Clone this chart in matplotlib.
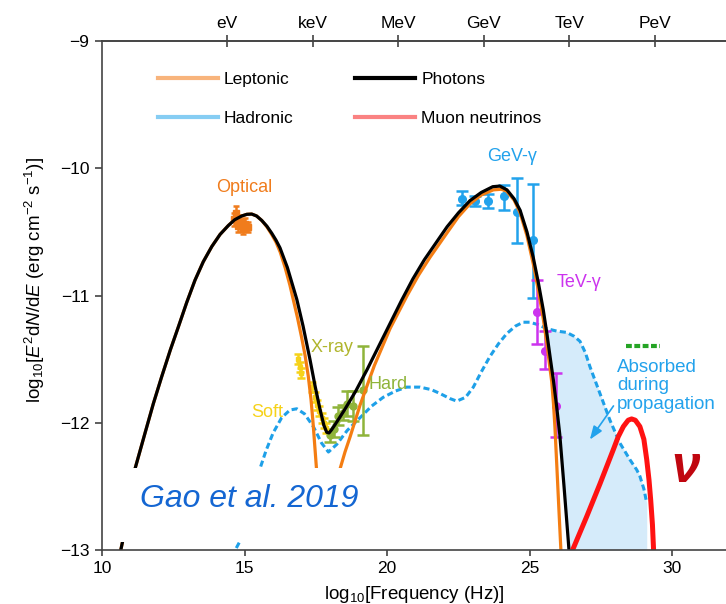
import numpy as np
import matplotlib
matplotlib.use("Agg")
import matplotlib.pyplot as plt
from matplotlib.lines import Line2D
from matplotlib.patches import Rectangle

plt.rcParams["font.family"] = ["Liberation Sans", "DejaVu Sans"]
plt.rcParams["mathtext.fontset"] = "custom"
plt.rcParams["mathtext.rm"] = "Liberation Sans"
plt.rcParams["mathtext.it"] = "Liberation Sans:italic"
plt.rcParams["mathtext.bf"] = "Liberation Sans:bold"

# ---- model curves: log10(nu / Hz) vs log10(E^2 dN/dE) ----
photons_x = [10.64, 10.72, 11.16, 11.51, 11.80, 12.09, 12.40, 12.68, 12.97, 13.26,
             13.55, 13.85, 14.14, 14.43, 14.65, 14.90, 15.08, 15.25, 15.42, 15.60,
             15.78, 15.95, 16.10, 16.24, 16.50, 16.83, 17.05, 17.29, 17.47, 17.64,
             17.78, 17.88, 17.96, 18.05, 18.20, 18.50, 18.90, 19.30, 19.70, 20.10,
             20.50, 20.90, 21.30, 21.70, 22.10, 22.50, 22.90, 23.30, 23.70, 23.95,
             24.20, 24.45, 24.66, 24.90, 25.12, 25.30, 25.47, 25.60, 25.71, 25.83,
             25.94, 26.05, 26.20, 26.35, 26.38]
photons_y = [-13.02, -12.935, -12.36, -12.08, -11.85, -11.64, -11.425, -11.245, -11.055, -10.88,
             -10.735, -10.615, -10.52, -10.45, -10.405, -10.375, -10.362, -10.36, -10.375, -10.41,
             -10.455, -10.51, -10.565, -10.625, -10.78, -11.03, -11.24, -11.50, -11.71, -11.89,
             -12.02, -12.075, -12.08, -12.055, -12.005, -11.90, -11.75, -11.58, -11.40, -11.22,
             -11.04, -10.87, -10.72, -10.59, -10.46, -10.35, -10.255, -10.19, -10.145, -10.14,
             -10.17, -10.24, -10.33, -10.50, -10.70, -10.90, -11.11, -11.30, -11.48, -11.67,
             -11.87, -12.09, -12.50, -12.93, -13.02]

leptonic_x = [10.64, 10.72, 11.16, 11.51, 11.80, 12.09, 12.40, 12.68, 12.97, 13.26,
              13.55, 13.85, 14.14, 14.43, 14.65, 14.90, 15.08, 15.25, 15.42, 15.60,
              15.78, 15.95, 16.10, 16.25, 16.42, 16.59, 16.85, 17.00, 17.12, 17.23,
              17.33, 17.40, 17.47, 17.55, 17.65, 17.90, 18.15, 18.28, 18.35, 18.52,
              18.70, 19.05, 19.55, 20.10, 20.70, 21.10, 21.50, 22.09, 22.50, 22.90,
              23.30, 23.72, 24.00, 24.19, 24.45, 24.66, 24.90, 25.12, 25.30, 25.47,
              25.60, 25.70, 25.77, 25.83, 25.88, 25.95, 26.02, 26.09]
leptonic_y = [-13.02, -12.935, -12.36, -12.08, -11.85, -11.64, -11.425, -11.245, -11.055, -10.88,
              -10.735, -10.615, -10.52, -10.45, -10.405, -10.375, -10.362, -10.36, -10.375, -10.41,
              -10.46, -10.52, -10.58, -10.66, -10.78, -10.92, -11.17, -11.33, -11.47, -11.63,
              -11.82, -12.00, -12.21, -12.45, -12.70, -12.85, -12.70, -12.50, -12.36, -12.23,
              -12.11, -11.86, -11.55, -11.26, -11.00, -10.84, -10.70, -10.51, -10.38, -10.28,
              -10.21, -10.17, -10.165, -10.18, -10.25, -10.35, -10.53, -10.75, -10.96, -11.18,
              -11.38, -11.56, -11.68, -11.85, -12.03, -12.35, -12.68, -13.00]

hadronic_x = [14.55, 14.84, 15.54, 15.75, 16.00, 16.30, 16.59, 16.83, 17.10, 17.41,
              17.70, 17.94, 18.23, 18.60, 19.05, 19.45, 19.86, 20.30, 20.68, 21.15,
              21.55, 21.85, 22.20, 22.44, 22.75, 23.02, 23.30, 23.60, 23.90, 24.19,
              24.50, 24.77, 25.00, 25.30, 25.59, 25.95, 26.29, 26.55, 26.76, 26.95,
              27.11, 27.46, 27.81, 28.16, 28.51, 28.75, 28.86, 29.00, 29.10]
hadronic_y = [-13.05, -12.93, -12.36, -12.22, -12.08, -11.96, -11.90, -11.89, -11.93, -12.03,
              -12.16, -12.23, -12.17, -12.06, -11.96, -11.87, -11.80, -11.75, -11.72, -11.72,
              -11.74, -11.77, -11.81, -11.83, -11.80, -11.72, -11.60, -11.48, -11.38, -11.30,
              -11.24, -11.21, -11.21, -11.23, -11.26, -11.28, -11.29, -11.32, -11.36, -11.45,
              -11.56, -11.77, -11.98, -12.16, -12.29, -12.37, -12.42, -12.52, -12.63]

neutrino_x = [26.50, 26.99, 27.46, 27.93, 28.10, 28.28, 28.45, 28.57, 28.70, 28.86,
              29.00, 29.10, 29.18, 29.24, 29.30, 29.34]
neutrino_y = [-13.00, -12.74, -12.48, -12.21, -12.11, -12.03, -11.98, -11.97, -11.98, -12.03,
              -12.13, -12.29, -12.45, -12.61, -12.80, -13.00]

# sensitivity segment
sens_x = [28.39, 29.57]
sens_y = [-11.40, -11.40]

# ---- observations ----
optical_x = [14.62, 14.70, 14.78, 14.86, 14.94, 15.02, 15.12]
optical_y = [-10.40, -10.35, -10.45, -10.42, -10.48, -10.44, -10.46]
optical_err = [0.05, 0.05, 0.05, 0.05, 0.04, 0.05, 0.04]

soft_x = [16.88, 16.93, 16.98, 17.38, 17.46, 17.54, 17.62, 17.70, 17.78, 17.86]
soft_y = [-11.50, -11.56, -11.61, -11.72, -11.80, -11.86, -11.91, -11.96, -12.00, -12.04]
soft_err = [0.04, 0.04, 0.04, 0.04, 0.04, 0.04, 0.04, 0.04, 0.04, 0.04]

hard_x = [17.99, 18.12, 18.29, 18.45, 18.58, 18.81, 19.16]
hard_y = [-12.10, -12.05, -11.95, -11.92, -11.85, -11.87, -11.74]
hard_lo = [0.05, 0.06, 0.07, 0.06, 0.10, 0.12, 0.36]
hard_hi = [0.05, 0.06, 0.07, 0.06, 0.10, 0.12, 0.34]

gev_x = [22.61, 23.08, 23.55, 24.10, 24.54, 25.10]
gev_y = [-10.24, -10.26, -10.26, -10.22, -10.34, -10.56]
gev_lo = [0.05, 0.04, 0.05, 0.11, 0.245, 0.46]
gev_hi = [0.06, 0.04, 0.06, 0.09, 0.26, 0.44]

tev_x = [25.24, 25.55, 25.92]
tev_y = [-11.13, -11.44, -11.87]
tev_lo = [0.25, 0.14, 0.24]
tev_hi = [0.25, 0.16, 0.26]

# energy scale on the top axis
energy_labels = ["eV", "keV", "MeV", "GeV", "TeV", "PeV"]
energy_eV = [1e0, 1e3, 1e6, 1e9, 1e12, 1e15]
HZ_PER_EV = 2.418e14

# ---- colours ----
c_lep = "#f47d12"
c_had = "#1ea0e8"
c_nu = "#ff1212"
c_opt = "#f07c1c"
c_soft = "#f6d21a"
c_hard = "#8fb43a"
c_xlab = "#b0b52c"
c_gev = "#22a2ec"
c_tev = "#cc33ee"

fig = plt.figure(figsize=(7.26, 6.04), dpi=100)
ax = fig.add_axes([102 / 726, 54 / 604, 624 / 726, 509 / 604])

# absorbed region between the hadronic curve and the photon curve
gx = np.linspace(25.5, 29.1, 400)
upper = np.interp(gx, hadronic_x, hadronic_y)
lower = np.maximum(np.interp(gx, photons_x, photons_y), -13.0)
ax.fill_between(gx, lower, upper, where=upper > lower, color="#d5ebfa",
                lw=0, zorder=1, interpolate=True)

ax.plot(hadronic_x, hadronic_y, color=c_had, lw=2.2, ls=(0, (2.0, 1.1)), zorder=2)

# observational points
ekw = dict(ls="none", elinewidth=1.8, capthick=1.8, zorder=2.5)
ax.errorbar(optical_x, optical_y, yerr=optical_err, marker="s", ms=5, color=c_opt,
            capsize=2, **ekw)
ax.errorbar(soft_x, soft_y, yerr=soft_err, marker="s", ms=3, color=c_soft,
            capsize=3, **ekw)
ax.errorbar(hard_x, hard_y, yerr=[hard_lo, hard_hi], marker="o", ms=5, color=c_hard,
            capsize=4, **ekw)
ax.errorbar(gev_x, gev_y, yerr=[gev_lo, gev_hi], marker="o", ms=5.5, color=c_gev,
            capsize=4, **ekw)
ax.errorbar(tev_x, tev_y, yerr=[tev_lo, tev_hi], marker="o", ms=5.5, color=c_tev,
            capsize=4, **ekw)

ax.plot(leptonic_x, leptonic_y, color=c_lep, lw=2.3, zorder=3)
ax.plot(photons_x, photons_y, color="black", lw=2.3, zorder=4)
ax.plot(neutrino_x, neutrino_y, color=c_nu, lw=3.6, zorder=4)
ax.plot(sens_x, sens_y, color="#25a425", lw=3, ls=(0, (1.4, 0.6)), zorder=4)

# label panel
ax.add_patch(Rectangle((10.0, -12.94), 10.6, 0.585, facecolor="white",
                       edgecolor="none", zorder=6))
ax.text(15.15, -12.60, "Gao et al. 2019", color="#1466d2", fontsize=23,
        style="italic", ha="center", va="center", zorder=7)

# annotations
tkw = dict(fontsize=13, ha="center", va="center", zorder=7)
ax.text(14.98, -10.155, "Optical", color=c_opt, **tkw)
ax.text(15.79, -11.92, "Soft", color=c_soft, **tkw)
ax.text(18.07, -11.41, "X-ray", color=c_xlab, **tkw)
ax.text(20.03, -11.70, "Hard", color=c_hard, **tkw)
ax.text(24.38, -9.91, "GeV-γ", color=c_gev, **tkw)
ax.text(26.73, -10.90, "TeV-γ", color=c_tev, **tkw)
ax.text(28.06, -11.71, "Absorbed\nduring\npropagation", color=c_gev, fontsize=13.5,
        ha="left", va="center", linespacing=1.1, zorder=7)
ax.annotate("", xy=(27.05, -12.15), xytext=(27.99, -11.85),
            arrowprops=dict(arrowstyle="-|>,head_length=0.8,head_width=0.3",
                            color=c_gev, lw=1.2), zorder=7)
ax.text(30.48, -12.36, "ν", color="#c0060f", fontsize=37, fontweight="bold",
        style="italic", ha="center", va="center", zorder=7)

# legend
handles = [Line2D([], [], color="#f8b47c", lw=3),
           Line2D([], [], color="#86cdf3", lw=3),
           Line2D([], [], color="black", lw=3),
           Line2D([], [], color="#fa8282", lw=3)]
labels = ["Leptonic", "Hadronic", "Photons", "Muon neutrinos"]
ax.legend(handles, labels, ncol=2, frameon=False, fontsize=12.5,
          loc="upper left", bbox_to_anchor=((158 - 102) / 624, 0.940),
          borderpad=0, borderaxespad=0, handlelength=3.45, handletextpad=0.35,
          labelspacing=1.37, columnspacing=3.55)

# axes
ax.set_xlim(10, 10 + 624 / 28.52)
ax.set_ylim(-13, -9)
ax.set_xticks([10, 15, 20, 25, 30])
ax.set_yticks([-13, -12, -11, -10, -9])
ax.tick_params(axis="both", direction="out", length=4, width=1.1, labelsize=12.5,
               color="#333333", pad=4)
ax.tick_params(axis="y", length=5)
for side in ("left", "bottom", "top"):
    ax.spines[side].set_linewidth(1.2)
    ax.spines[side].set_color("#444444")
    ax.spines[side].set_zorder(10)
ax.spines["right"].set_visible(False)

sec = ax.secondary_xaxis("top")
sec.set_xticks([np.log10(e * HZ_PER_EV) for e in energy_eV], labels=energy_labels)
sec.tick_params(direction="inout", length=9, width=1.1, labelsize=12.5,
                color="#333333", pad=3)
sec.spines["top"].set_linewidth(1.2)
sec.spines["top"].set_color("#444444")

ax.set_xlabel(r"$\mathrm{log}_{10}$[Frequency (Hz)]", fontsize=13.5, labelpad=6)
ax.set_ylabel(r"$\mathrm{log}_{10}[E^{2}\mathrm{d}N/\mathrm{d}E\ (\mathrm{erg\ cm^{-2}\ s^{-1}})]$",
              fontsize=13.5)
ax.yaxis.set_label_coords(-0.088, 0.53)

fig.savefig("out.png", dpi=100)
